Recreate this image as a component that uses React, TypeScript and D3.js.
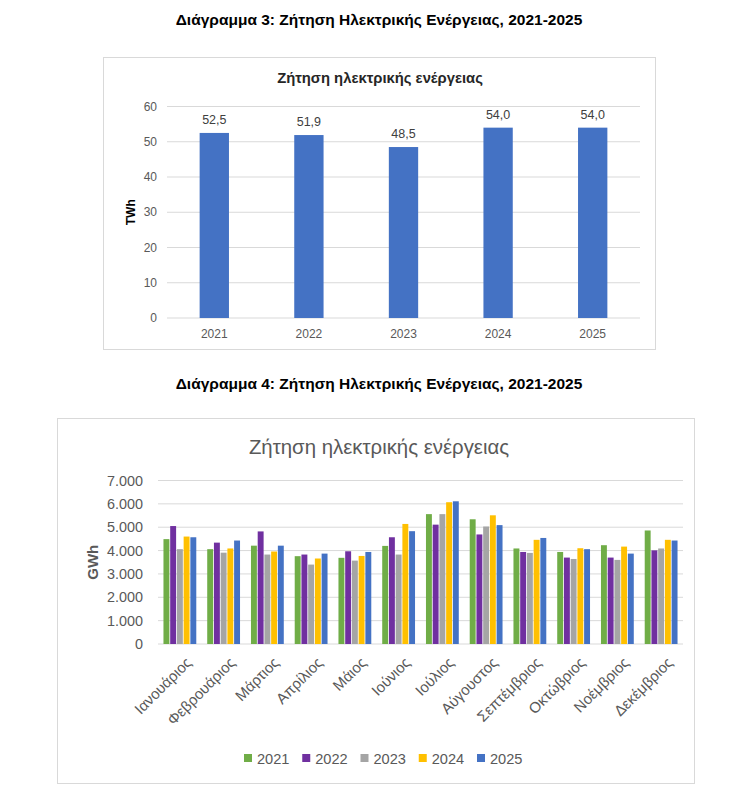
import React from 'react';
import * as d3 from 'd3';

const years = ['2021', '2022', '2023', '2024', '2025'];
const annualTWh = [52.5, 51.9, 48.5, 54.0, 54.0];
const topTicks = [0, 10, 20, 30, 40, 50, 60];

const months = ['Ιανουάριος', 'Φεβρουάριος', 'Μάρτιος', 'Απρίλιος', 'Μάιος', 'Ιούνιος', 'Ιούλιος', 'Αύγουστος', 'Σεπτέμβριος', 'Οκτώβριος', 'Νοέμβριος', 'Δεκέμβριος'];
const s2021 = [4490, 4060, 4210, 3760, 3690, 4200, 5560, 5340, 4090, 3940, 4230, 4860];
const s2022 = [5050, 4340, 4820, 3830, 3970, 4570, 5110, 4690, 3940, 3700, 3700, 4010];
const s2023 = [4060, 3910, 3830, 3400, 3570, 3830, 5560, 5030, 3900, 3640, 3600, 4090];
const s2024 = [4600, 4090, 3960, 3660, 3770, 5140, 6070, 5510, 4460, 4100, 4170, 4460];
const s2025 = [4570, 4430, 4210, 3870, 3940, 4830, 6110, 5090, 4540, 4060, 3870, 4430];
const monthlySeries = [s2021, s2022, s2023, s2024, s2025];
const seriesColors = ['#70ad47', '#7030a0', '#a5a5a5', '#ffc000', '#4472c4'];
const bottomTicks = [0, 1000, 2000, 3000, 4000, 5000, 6000, 7000];

const locale = d3.formatLocale({ decimal: ',', thousands: '.', grouping: [3], currency: ['€', ''] });
const fmtThousands = locale.format(',.0f');
const fmtOne = locale.format('.1f');

const FONT = '"Liberation Sans", Arial, sans-serif';

export default function App() {
  // top chart scales
  const xTop = d3.scaleBand<string>().domain(years).range([167, 640]).paddingInner(0.69).paddingOuter(0.345);
  const yTop = d3.scaleLinear().domain([0, 60]).range([318, 106.5]);

  // bottom chart scales
  const xBot = d3.scaleBand<string>().domain(months).range([158, 683]).paddingInner(0.25).paddingOuter(0.125);
  const xInner = d3.scaleBand<string>().domain(years).range([0, xBot.bandwidth()]).paddingInner(0.12);
  const yBot = d3.scaleLinear().domain([0, 7000]).range([644, 480.5]);
  const xLegend = d3.scaleLinear().domain([0, 4]).range([244, 477]);

  return (
    <svg width={736} height={797} style={{ position: 'absolute', left: 0, top: 0, background: '#fff' }} fontFamily={FONT}>
      <rect x={0} y={0} width={736} height={797} fill="#fff" />
      {/* ---------- Chart 3 ---------- */}
      <text x={379} y={25} textAnchor="middle" fontSize={15.5} fontWeight="bold" fill="#000">
        Διάγραμμα 3: Ζήτηση Ηλεκτρικής Ενέργειας, 2021-2025
      </text>
      <rect x={103.5} y={57.5} width={552} height={292} fill="#fff" stroke="#d9d9d9" strokeWidth={1} />
      <text x={380} y={83} textAnchor="middle" fontSize={14.8} fontWeight="bold" fill="#262626">
        Ζήτηση ηλεκτρικής ενέργειας
      </text>
      {topTicks.map((t) => (
        <g key={'tt' + t}>
          <line x1={167} x2={640} y1={yTop(t)} y2={yTop(t)} stroke="#d9d9d9" strokeWidth={1} />
          <text x={157} y={yTop(t)} dy="0.35em" textAnchor="end" fontSize={12} fill="#595959">
            {t}
          </text>
        </g>
      ))}
      <text transform={`translate(135,${yTop(30)}) rotate(-90)`} textAnchor="middle" fontSize={12} fontWeight="bold" fill="#000">
        TWh
      </text>
      {years.map((yr, i) => (
        <g key={'tb' + yr}>
          <rect x={xTop(yr)} y={yTop(annualTWh[i])} width={xTop.bandwidth()} height={yTop(0) - yTop(annualTWh[i])} fill="#4472c4" />
          <text x={(xTop(yr) as number) + xTop.bandwidth() / 2} y={yTop(annualTWh[i]) - 9} textAnchor="middle" fontSize={12.5} fill="#404040">
            {fmtOne(annualTWh[i])}
          </text>
          <text x={(xTop(yr) as number) + xTop.bandwidth() / 2} y={338} textAnchor="middle" fontSize={12} fill="#595959">
            {yr}
          </text>
        </g>
      ))}

      {/* ---------- Chart 4 ---------- */}
      <text x={379} y={389} textAnchor="middle" fontSize={15.5} fontWeight="bold" fill="#000">
        Διάγραμμα 4: Ζήτηση Ηλεκτρικής Ενέργειας, 2021-2025
      </text>
      <rect x={57.5} y={418.5} width={637} height={365} fill="#fff" stroke="#d9d9d9" strokeWidth={1} />
      <text x={379} y={454} textAnchor="middle" fontSize={20.4} fill="#595959">
        Ζήτηση ηλεκτρικής ενέργειας
      </text>
      {bottomTicks.map((t) => (
        <g key={'bt' + t}>
          <line x1={158} x2={683} y1={yBot(t)} y2={yBot(t)} stroke="#d9d9d9" strokeWidth={1} />
          <text x={143} y={yBot(t)} dy="0.35em" textAnchor="end" fontSize={14.4} fill="#595959">
            {fmtThousands(t)}
          </text>
        </g>
      ))}
      <text transform={`translate(98,${yBot(3500)}) rotate(-90)`} textAnchor="middle" fontSize={15} fontWeight="bold" fill="#595959">
        GWh
      </text>
      {months.map((m, mi) => (
        <g key={'m' + m} transform={`translate(${xBot(m)},0)`}>
          {years.map((yr, si) => {
            const v = monthlySeries[si][mi];
            return (
              <rect key={yr} x={xInner(yr)} y={yBot(v)} width={xInner.bandwidth()} height={yBot(0) - yBot(v)} fill={seriesColors[si]} />
            );
          })}
        </g>
      ))}
      {months.map((m) => {
        const cx = (xBot(m) as number) + xBot.bandwidth() / 2;
        return (
          <text key={'ml' + m} transform={`translate(${cx + 5},656) rotate(-45)`} textAnchor="end" dy="0.71em" fontSize={15} fill="#595959">
            {m}
          </text>
        );
      })}
      {years.map((yr, i) => {
        const lx = xLegend(i);
        return (
          <g key={'lg' + yr}>
            <rect x={lx} y={754} width={8} height={8} fill={seriesColors[i]} />
            <text x={lx + 13} y={758.5} dy="0.35em" fontSize={14.6} fill="#595959">
              {yr}
            </text>
          </g>
        );
      })}
    </svg>
  );
}
